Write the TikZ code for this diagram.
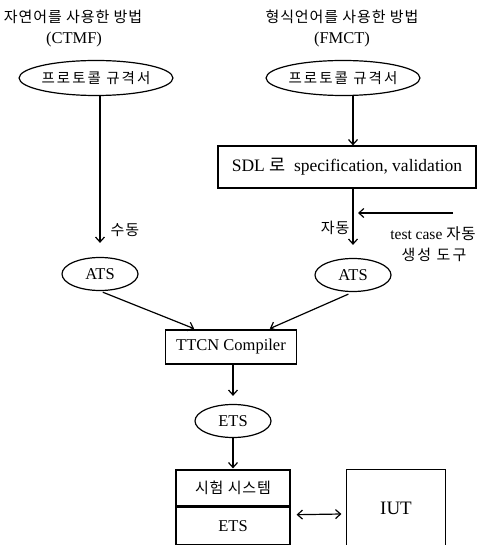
\documentclass[tikz,border=0pt]{standalone}
\usepackage{fontspec}
\setmainfont{Liberation Serif}
\newfontfamily\kr[LetterSpace=6]{Noto Sans CJK KR}
\newfontfamily\krw[LetterSpace=14]{Noto Sans CJK KR}
\usetikzlibrary{arrows.meta,shapes.geometric}
\tikzset{
  ell/.style={draw, ellipse, inner sep=0pt, font=\fontsize{16.5}{19}\selectfont},
  boxn/.style={draw, rectangle, inner sep=0pt, font=\fontsize{16.5}{19}\selectfont},
  lbl/.style={inner sep=0pt, font=\fontsize{16.5}{19}\selectfont},
  klbl/.style={inner sep=0pt, font=\kr\fontsize{15}{18}\selectfont},
  kwide/.style={font=\krw\fontsize{14.5}{17}\selectfont},
}
\begin{document}
\begin{tikzpicture}[x=1pt,y=-1pt, line width=1.2pt,
  >={Straight Barb[length=5pt,width=9pt]}]
\useasboundingbox[fill=white] (0,0) rectangle (484,545);
% titles
\node[klbl] (tl) at (73,17) {자연어를 사용한 방법};
\node[lbl] (tlc) at (74,40) {(CTMF)};
\node[klbl] (tr) at (342,17) {형식언어를 사용한 방법};
\node[lbl] (trc) at (342,40) {(FMCT)};
% spec ellipses
\node[ell, minimum width=150pt, minimum height=35pt, kwide] (pl) at (96,78) {프로토콜 규격서};
\node[ell, minimum width=150pt, minimum height=35pt, kwide] (pr) at (343,78) {프로토콜 규격서};
% SDL box
\node[boxn, minimum width=258pt, minimum height=42pt, font=\fontsize{17.5}{20}\selectfont] (sdl) at (347,167) {SDL {\kr 로}\ \ specification, validation};
% ATS
\node[ell, minimum width=76pt, minimum height=33pt] (atsl) at (100,274) {ATS};
\node[ell, minimum width=76pt, minimum height=33pt] (atsr) at (353,275) {ATS};
% TTCN
\node[boxn, minimum width=131pt, minimum height=34pt] (ttcn) at (231,347) {TTCN Compiler};
\node[ell, minimum width=76pt, minimum height=33pt] (ets) at (233,421) {ETS};
% test system
\node[boxn, minimum width=114pt, minimum height=36pt, kwide, font=\kr\fontsize{15}{18}\selectfont] (sys) at (233,488) {시험 시스템};
\node[boxn, minimum width=114pt, minimum height=37pt, anchor=north] (sysets) at (sys.south) {ETS};
% IUT
\node[inner sep=0pt, minimum width=98pt, minimum height=76pt, font=\fontsize{19}{22}\selectfont] (iut) at (396,508) {IUT};
\draw (iut.south west) -- (iut.north west) -- (iut.north east) -- (iut.south east);
% labels
\node[klbl, anchor=west] (sd) at (110,230) {수동};
\node[klbl, anchor=east] (jd) at (350,228) {자동};
\node[lbl, font=\fontsize{15.5}{18}\selectfont] (tc1) at (433,234) {test case {\kr\fontsize{15.5}{18}\selectfont 자동}};
\node[klbl, kwide, font=\krw\fontsize{15}{18}\selectfont] (tc2) at (434,255) {생성 도구};
% arrows
\draw[->, shorten >=14pt] (pl.south -| atsl.north) -- (atsl.north);
\draw[->] (pr.south -| atsr.north) -- (sdl.north -| atsr.north);
\draw[->, shorten >=13pt] (sdl.south -| atsr.north) -- (atsr.north);
\coordinate (tcs) at (453,213);
\coordinate (tce) at (358,213);
\draw[->] (tcs) -- (tce);
\draw[->, shorten <=3pt, shorten >=2pt] (atsl.south) -- ([xshift=-35pt]ttcn.north);
\draw[->, shorten <=5pt, shorten >=2pt] (atsr.south) -- ([xshift=37pt]ttcn.north);
\draw[->, shorten >=8pt] (ttcn.south -| ets.north) -- (ets.north);
\draw[->, shorten >=1pt] (ets.south) -- (sys.north);
\draw[<->] ([xshift=6pt,yshift=11pt]sysets.east) -- ([xshift=-5pt,yshift=-6pt]iut.west);
\end{tikzpicture}
\end{document}
